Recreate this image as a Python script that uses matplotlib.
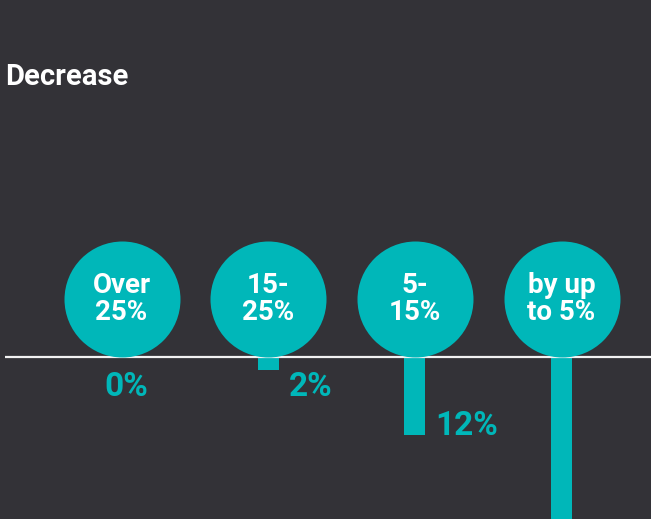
import numpy as np
import matplotlib.pyplot as plt

plt.rcParams['font.family'] = ['Roboto', 'DejaVu Sans']

# Share of respondents expecting a decrease, by size of decrease
categories = ["Over\n25%", "15-\n25%", "5-\n15%", "by up\nto 5%"]
values = [0, 2, 12, 34]
value_labels = ["0%", "2%", "12%", "34%"]
title = "Decrease"

BG = "#333237"
TEAL = "#00b7b9"

W, H = 651, 519
fig = plt.figure(figsize=(W / 100, H / 100), dpi=100, facecolor=BG)
ax = fig.add_axes([0, 0, 1, 1])
ax.set_facecolor(BG)
ax.axis('off')

# layout in pixels, converted to data units
step = 146.7        # px between category centres
x0 = 121.5          # px position of the first category
line_px = 357       # px from top of the baseline
px_per_pct = 6.5
radius_px = 58

ax.set_xlim(-x0 / step, (W - x0) / step)
ymin = -(H - line_px) / px_per_pct
ax.set_ylim(ymin, line_px / px_per_pct)

x = np.arange(len(categories))
vals = np.array(values, dtype=float)
bar_w = 21 / step

ax.bar(x, -vals, width=bar_w, color=TEAL, zorder=2)

# baseline
ax.plot([(5 - x0) / step, (W - x0) / step], [0, 0], color="#f2f2f2",
        lw=1.6, zorder=3, solid_capstyle='butt')

# category bubbles sitting on the baseline
diam_pt = 2 * radius_px * 72 / 100
cy = radius_px / px_per_pct
ax.scatter(x, np.full(len(x), cy), s=diam_pt ** 2, color=TEAL,
           linewidths=0, zorder=4)
for xi, cat in zip(x, categories):
    ax.text(xi, cy, cat, ha='center', va='center', color='white',
            fontsize=20, fontweight='bold', linespacing=1.0, zorder=5)

# value labels
min_drop = 39 / px_per_pct
for xi, v, lab in zip(x, vals, value_labels):
    ly = min(-v, -min_drop)
    if ly < ymin:
        continue
    if v == 0:
        ax.text(xi + 0.03, ly, lab, ha='center', va='baseline', color=TEAL,
                fontsize=24, fontweight='bold')
    else:
        ax.annotate(lab, (xi + bar_w / 2, ly), xytext=(7, 0),
                    textcoords='offset points', ha='left', va='baseline',
                    color=TEAL, fontsize=24, fontweight='bold')

fig.text(5 / W, 1 - 85 / H, title, ha='left', va='baseline', color='white',
         fontsize=21, fontweight='bold')

fig.savefig("out.png", dpi=100, facecolor=BG)
